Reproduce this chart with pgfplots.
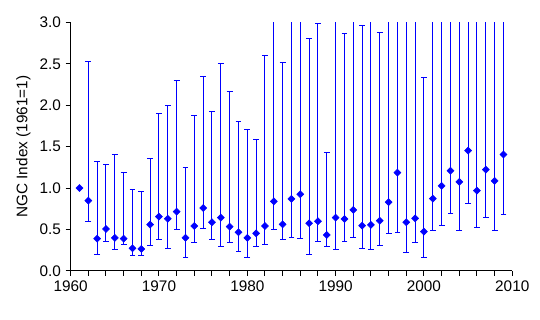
\documentclass[border=0pt]{standalone}
\usepackage{pgfplots}
\pgfplotsset{compat=1.18}
\usepackage{pgfplotstable}
\usepackage{fontspec}
\setmainfont{Liberation Sans}
\pgfplotstableread{
x y hi lo
1962 0.849 2.53 0.60
1963 0.39 1.325 0.20
1964 0.507 1.29 0.36
1965 0.40 1.40 0.254
1966 0.39 1.19 0.32
1967 0.274 0.987 0.19
1968 0.266 0.96 0.19
1969 0.56 1.36 0.31
1970 0.656 1.90 0.38
1971 0.63 2.00 0.274
1972 0.716 2.30 0.495
1973 0.40 1.25 0.165
1974 0.543 1.87 0.346
1975 0.76 2.35 0.515
1976 0.588 1.92 0.38
1977 0.644 2.50 0.30
1978 0.535 2.16 0.346
1979 0.467 1.80 0.24
1980 0.40 1.71 0.165
1981 0.455 1.59 0.30
1982 0.543 2.60 0.32
1983 0.84 3.6 0.503
1984 0.563 2.52 0.374
1985 0.87 3.6 0.407
1986 0.926 3.6 0.395
1987 0.576 2.80 0.20
1988 0.60 2.99 0.36
1989 0.435 1.43 0.29
1990 0.644 3.6 0.262
1991 0.628 2.87 0.36
1992 0.737 3.6 0.407
1993 0.547 2.96 0.274
1994 0.556 3.6 0.262
1995 0.607 2.88 0.31
1996 0.83 3.6 0.455
1997 1.187 3.6 0.467
1998 0.588 3.6 0.226
1999 0.636 3.6 0.346
2000 0.475 2.34 0.165
2001 0.873 3.6 0.483
2002 1.027 3.6 0.552
2003 1.21 3.6 0.697
2004 1.075 3.6 0.49
2005 1.453 3.6 0.82
2006 0.97 3.6 0.527
2007 1.223 3.6 0.648
2008 1.087 3.6 0.49
2009 1.405 3.6 0.676
}\errdata
\pgfplotstableread{
x y
1961 1.0
}\firstdata
\begin{document}
\begin{tikzpicture}
\useasboundingbox (-53pt,-36.75pt) rectangle (352pt,203.25pt);
\begin{axis}[
  scale only axis,
  width=331.2pt, height=186.5pt,
  xmin=1960, xmax=2010, ymin=0, ymax=3,
  axis lines=left,
  axis line style={-, black, line width=0.75pt},
  tick style={black, line width=0.75pt},
  tick align=outside,
  major tick length=3.75pt,
  minor tick length=3.75pt,
  xtick={1960,1970,...,2010},
  minor xtick={1962,1964,...,2008},
  ytick={0,0.5,...,3.0},
  yticklabel style={/pgf/number format/.cd, fixed, fixed zerofill, precision=1},
  xticklabel style={/pgf/number format/1000 sep={}},
  /pgf/number format/assume math mode=true,
  ticklabel style={font=\fontsize{11.5}{13}\selectfont, text=black},
  ylabel={NGC Index (1961=1)},
  ylabel style={font=\fontsize{11.5}{13}\selectfont},
  clip=true,
]
\addplot[only marks, mark=square*, mark size=1.85pt, mark options={rotate=45, blue, draw=blue, fill=blue},
  error bars/.cd, y dir=both, y explicit,
  error bar style={blue, line width=0.75pt},
  error mark options={blue, line width=0.75pt, mark size=2.2pt, rotate=90}]
  table[x=x, y=y, y error plus expr=\thisrow{hi}-\thisrow{y}, y error minus expr=\thisrow{y}-\thisrow{lo}] {\errdata};
\addplot[only marks, mark=square*, mark size=1.85pt, mark options={rotate=45, blue, draw=blue, fill=blue}]
  table[x=x, y=y] {\firstdata};
\end{axis}
\end{tikzpicture}
\end{document}
